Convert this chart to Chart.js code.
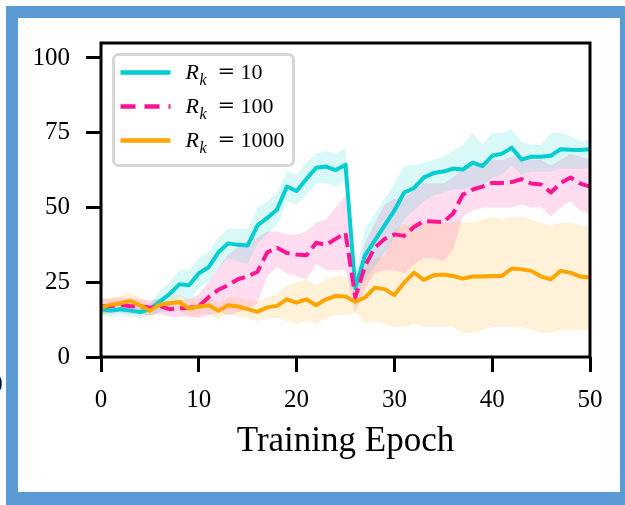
<!DOCTYPE html>
<html>
<head>
<meta charset="utf-8">
<script src="https://cdn.jsdelivr.net/npm/chart.js@4"></script>
<style>
  html, body { margin: 0; padding: 0; background: #fff; width: 625px; height: 505px; overflow: hidden; }
  #frame { position: absolute; left: 6px; top: 6px; width: 626px; height: 499px; box-sizing: border-box;
           border: 12px solid #5b9bd5; border-bottom-width: 13px; }
  #stray { position: absolute; left: -10px; top: 371px; font: 25px/25px "Liberation Serif", serif; color: #000; }
  #c { position: absolute; left: 0; top: 0; }
</style>
</head>
<body>
<div id="frame"></div>
<span id="stray">0</span>
<canvas id="c" width="625" height="505"></canvas>
<script>
// Legend values of R_k, one per series
const rkValues = ['10', '100', '1000'];
const xTickValues = [0, 10, 20, 30, 40, 50];
const yTickValues = [0, 25, 50, 75, 100];

// R_k = 10 : mean accuracy per epoch and the band around it
const acc10 = [16, 15.5, 16, 15.5, 15, 16, 18.5, 21, 24.3, 24, 28, 30, 35, 38, 37.5, 37.3, 44, 46.5, 49.3, 57,
  55.5, 59.5, 63.3, 63.7, 62.5, 64.3, 23, 34, 39, 44, 49, 55, 56.5, 60, 61.5, 62, 63, 62.7, 65, 63.8,
  67.3, 68, 70, 66, 67, 67, 67.3, 69.5, 69.3, 69.2, 69.5];
const acc10Hi = [18, 17.5, 18, 17.5, 17, 18, 22, 25, 29, 29, 33, 35, 40, 43, 43, 43, 50, 52, 55, 62,
  61, 65, 68, 69, 68, 70, 27, 43, 48, 53, 58, 64, 64, 65, 66, 67, 69, 71, 75, 71,
  75, 75, 76, 72, 71, 71, 75, 75, 74, 72, 73];
const acc10Lo = [14, 13.5, 14, 13.5, 13, 14, 15, 17, 20, 19, 23, 25, 30, 33, 32, 31, 38, 41, 44, 52,
  51, 54, 58, 58, 57, 59, 19, 26, 30, 35, 40, 46, 49, 52, 54, 55, 56, 56, 57, 57,
  60, 61, 64, 61, 62, 62, 62, 63, 63, 63, 63];

// R_k = 100
const acc100 = [17, 17, 17.5, 17, 17, 16.5, 17, 16, 16.3, 16.5, 17, 20, 22.5, 24, 26, 27, 28.5, 35, 36.5, 34.8,
  34.3, 34, 38.2, 37.5, 39.5, 41.5, 20, 30.4, 36.6, 39.5, 41, 40.5, 43.5, 45.4, 45.3, 45.1, 48, 54.3, 56, 57,
  58.2, 58.2, 58.5, 59.5, 58, 57.7, 55, 58.2, 60, 58, 57];
const acc100Hi = [19.5, 19.5, 20, 19.5, 19.5, 19, 19.5, 18.5, 19, 19.5, 21, 25, 30, 34, 37, 39, 40, 42, 42, 41,
  41, 42, 45, 46, 50, 54, 24, 38, 45, 51, 53, 53, 56, 58, 58, 58, 60, 63, 64, 65,
  66, 66, 67, 67, 66, 66, 64, 66, 68, 67, 66];
const acc100Lo = [14.5, 14.5, 15, 14.5, 14.5, 14, 14.5, 13.5, 13.5, 13.5, 13, 14, 15, 14, 15, 16, 18, 27, 30, 28,
  27, 26, 31, 29, 29, 29, 15, 23, 28, 29, 29, 28, 31, 33, 33, 32, 36, 47, 49, 50,
  50, 50, 50, 51, 50, 50, 47, 50, 52, 49, 48];

// R_k = 1000
const acc1000 = [16.5, 17.5, 18, 18.8, 17.3, 15.5, 17.5, 18, 18.4, 16.2, 16.9, 17.3, 15.5, 17.3, 16.9, 16, 15.1, 16.6, 17.1, 19.3,
  18.2, 19.3, 17.3, 19.3, 20.4, 20.2, 18.5, 19.9, 23.2, 22.7, 20.7, 24.9, 28.2, 25.8, 27.3, 27.6, 27.1, 26.2, 26.9, 26.9,
  27.1, 27.1, 29.6, 29.3, 28.8, 26.9, 26, 28.8, 28.2, 26.9, 26.6];
const acc1000Hi = [19, 20, 20.5, 21.5, 20, 18, 20, 20.5, 21, 19, 19.5, 20, 18, 20, 20, 19, 18.5, 20, 21, 24,
  25, 26, 24, 26, 27, 27, 22, 30, 33, 34, 43, 44, 45, 45, 45, 45, 45, 45, 45, 46,
  47, 46, 47, 47, 46, 45, 44, 45, 45, 44, 44];
const acc1000Lo = [14, 15, 15.5, 16, 14.5, 13, 15, 15.5, 15.5, 13.5, 14, 14.5, 12.5, 14.5, 13.5, 13, 12, 13, 13, 12,
  11, 12, 11, 13, 14, 14, 15, 11, 12, 11, 10, 10, 11, 10, 10, 10, 10, 8, 8, 9,
  10, 10, 10, 10, 9, 8, 8, 9, 9, 9, 9];

const epochs = acc10.map((_, i) => i);
const pts = arr => arr.map((v, i) => ({ x: epochs[i], y: v }));

const colors = ['#00CED1', '#FF1493', '#FFA500'];
const bands = ['rgba(0,206,209,0.15)', 'rgba(255,20,147,0.15)', 'rgba(255,165,0,0.15)'];
const means = [acc10, acc100, acc1000];
const highs = [acc10Hi, acc100Hi, acc1000Hi];
const lows = [acc10Lo, acc100Lo, acc1000Lo];
const dashes = [[], [14, 6], []];

const datasets = [];
// shaded bands (upper edge filled down to the lower edge)
for (let s = 0; s < 3; s++) {
  datasets.push({ data: pts(highs[s]), borderColor: 'transparent', borderWidth: 0, pointRadius: 0,
    backgroundColor: bands[s], fill: '+1', order: 10 });
  datasets.push({ data: pts(lows[s]), borderColor: 'transparent', borderWidth: 0, pointRadius: 0,
    backgroundColor: 'transparent', fill: false, order: 10 });
}
// mean curves, later series drawn on top
for (let s = 0; s < 3; s++) {
  datasets.push({ data: pts(means[s]), rk: rkValues[s], borderColor: colors[s], borderWidth: 4,
    borderDash: dashes[s], borderJoinStyle: 'round', pointRadius: 0, fill: false, tension: 0, order: 3 - s });
}

const FONT = '"Liberation Serif", serif';

const frame = {
  id: 'frame',
  afterDatasetsDraw(chart) {
    const { ctx, chartArea: a } = chart;
    ctx.save();
    ctx.lineWidth = 3;
    ctx.strokeStyle = '#000';
    ctx.strokeRect(a.left, a.top, a.right - a.left, a.bottom - a.top);
    ctx.restore();
  }
};

const rkLegend = {
  id: 'rkLegend',
  afterDraw(chart) {
    const { ctx, chartArea: a } = chart;
    const items = chart.data.datasets.filter(d => d.rk);
    const x0 = a.left + 12.5, y0 = a.top + 11.5;
    ctx.save();
    ctx.beginPath();
    ctx.roundRect(x0, y0, 180, 111, 5);
    ctx.fillStyle = 'rgba(255,255,255,0.8)';
    ctx.fill();
    ctx.lineWidth = 3;
    ctx.strokeStyle = '#d6d6d6';
    ctx.stroke();
    items.forEach((d, i) => {
      const y = y0 + 18 + i * 34;
      ctx.beginPath();
      ctx.setLineDash(d.borderDash.length ? [15, 9] : []);
      ctx.moveTo(x0 + 7, y);
      ctx.lineTo(x0 + 57, y);
      ctx.lineWidth = 4.3;
      ctx.lineCap = 'butt';
      ctx.strokeStyle = d.borderColor;
      ctx.stroke();
      ctx.setLineDash([]);
      const base = y + 6.5;
      ctx.fillStyle = '#000';
      ctx.textAlign = 'left';
      ctx.textBaseline = 'alphabetic';
      ctx.font = 'italic 22px ' + FONT;
      ctx.fillText('R', x0 + 72, base);
      ctx.font = 'italic 16px ' + FONT;
      ctx.fillText('k', x0 + 86, base + 6);
      ctx.font = '21px "DejaVu Serif", serif';
      ctx.fillText('=', x0 + 104, base - 1);
      ctx.font = '22px ' + FONT;
      ctx.fillText(d.rk, x0 + 127, base);
    });
    ctx.restore();
  }
};

new Chart(document.getElementById('c'), {
  type: 'line',
  data: { datasets },
  plugins: [frame, rkLegend],
  options: {
    responsive: false,
    animation: false,
    devicePixelRatio: 1,
    layout: { padding: { left: 0, top: 43, right: 35, bottom: 0 } },
    plugins: { legend: { display: false }, tooltip: { enabled: false } },
    scales: {
      x: {
        type: 'linear', min: 0, max: 50,
        afterBuildTicks: s => { s.ticks = xTickValues.map(v => ({ value: v })); },
        afterFit: s => { s.height = 148; },
        border: { display: false },
        grid: { drawOnChartArea: false, drawTicks: true, tickLength: 15, lineWidth: 3, color: '#000' },
        ticks: { color: '#000', padding: 13, font: { family: FONT, size: 25 } },
        title: { display: true, text: 'Training Epoch', color: '#000',
                 font: { family: FONT, size: 35 }, padding: { top: 0, bottom: 42 } }
      },
      y: {
        type: 'linear', min: 0, max: 105,
        afterBuildTicks: s => { s.ticks = yTickValues.map(v => ({ value: v })); },
        afterFit: s => { s.width = 101; },
        border: { display: false },
        grid: { drawOnChartArea: false, drawTicks: true, tickLength: 15, lineWidth: 3, color: '#000' },
        ticks: { color: '#000', padding: 16, font: { family: FONT, size: 25 } }
      }
    }
  }
});
</script>
</body>
</html>
